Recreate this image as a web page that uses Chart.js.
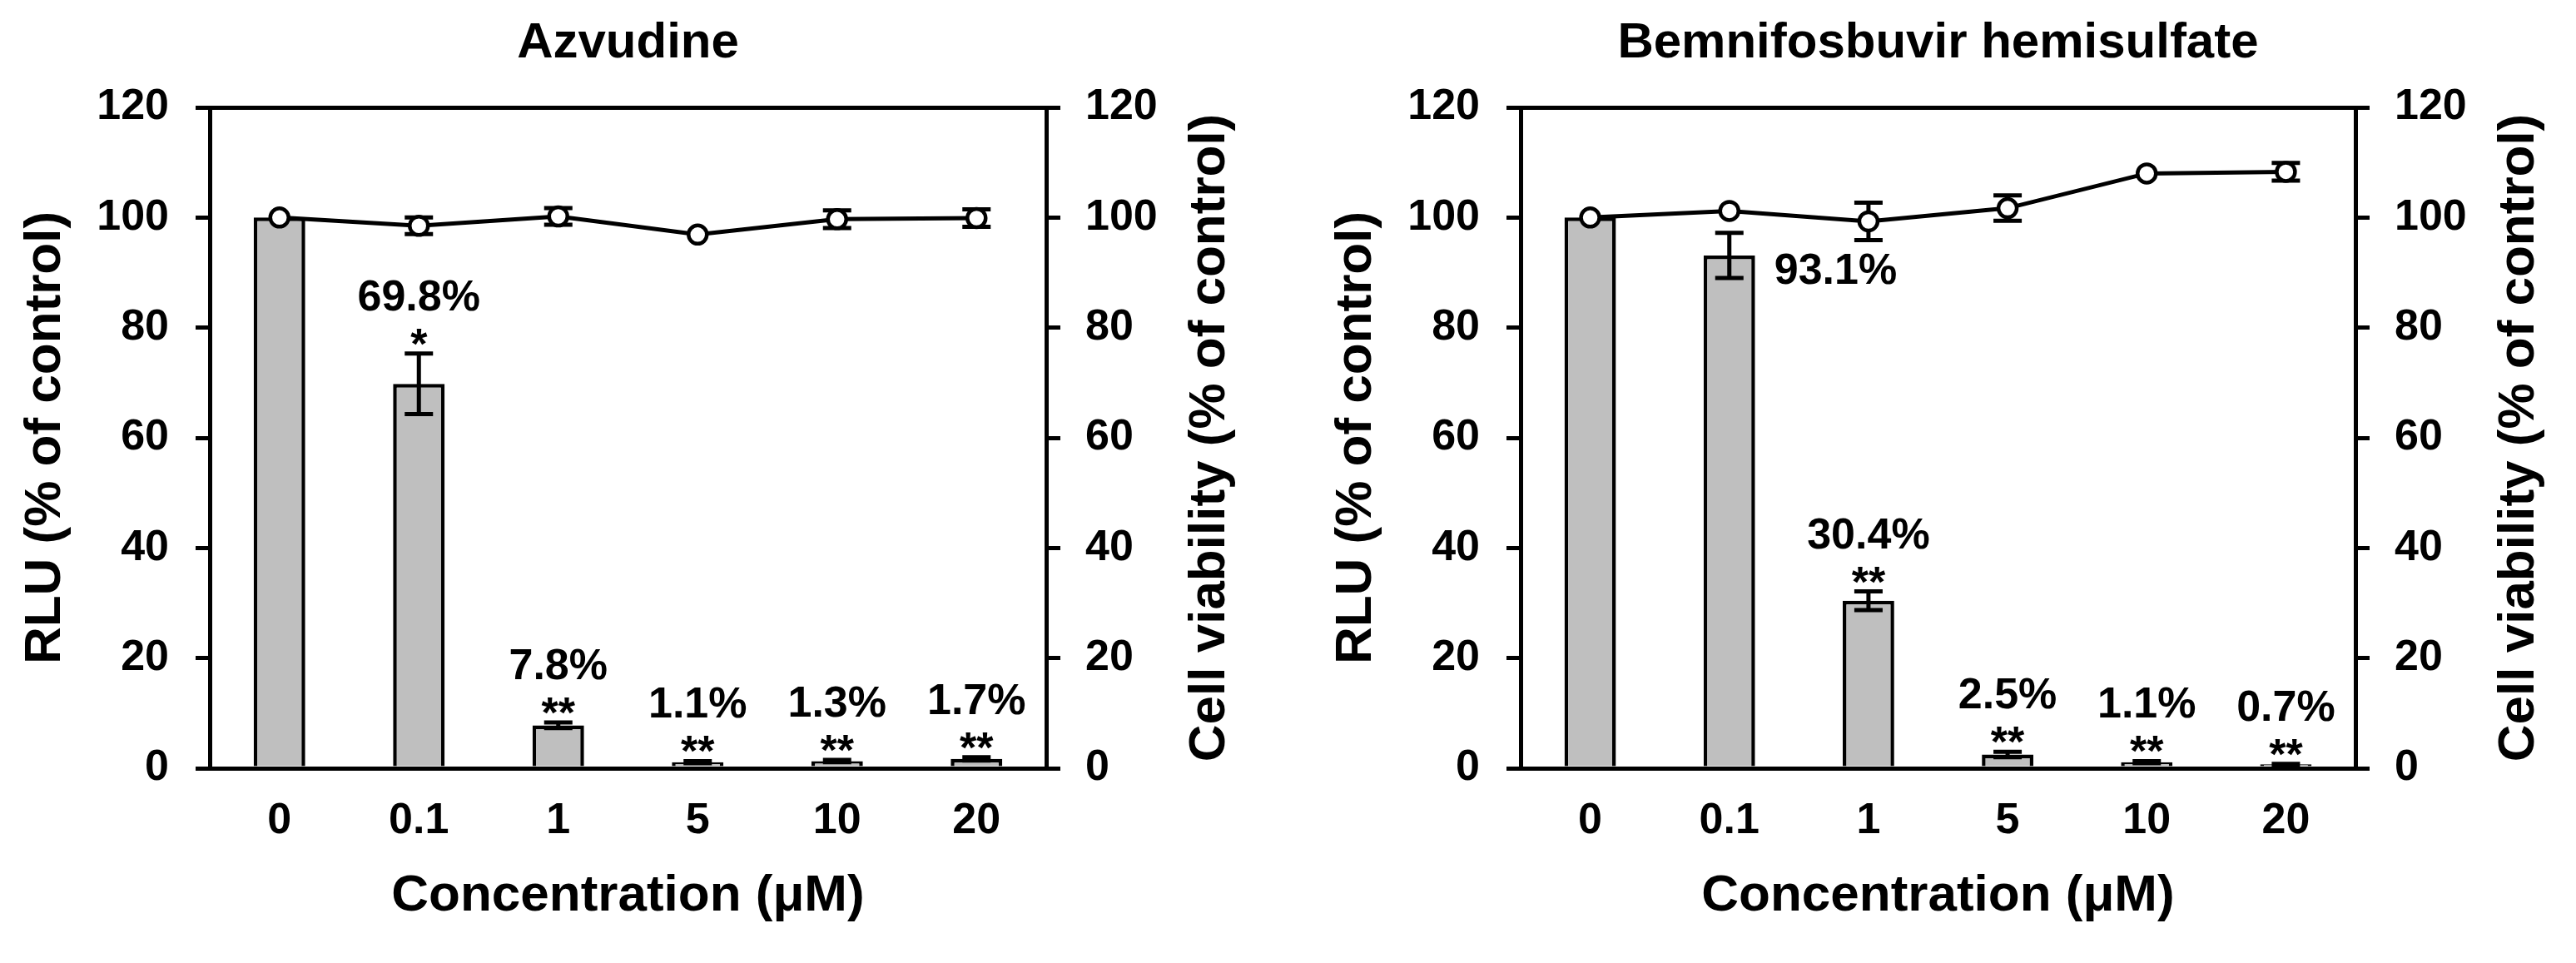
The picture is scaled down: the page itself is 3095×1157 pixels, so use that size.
<!DOCTYPE html>
<html>
<head>
<meta charset="utf-8">
<script src="https://cdn.jsdelivr.net/npm/chart.js@4.4.1/dist/chart.umd.min.js"></script>
<style>
    html, body { margin: 0; padding: 0; background: #fff; }
    body { width: 3095px; height: 1157px; position: relative; overflow: hidden; }
    canvas { position: absolute; top: 0; }
    #azv { left: 0; }
    #bem { left: 1575px; }
</style>
</head>
<body>
<canvas id="azv" width="1509" height="1157"></canvas>
<canvas id="bem" width="1507" height="1157"></canvas>
<script>
// datos
const concentrations = ['0', '0.1', '1', '5', '10', '20'];
const percentTicks = [0, 20, 40, 60, 80, 100, 120];

const azvRlu = [100, 69.8, 7.8, 1.1, 1.3, 1.7];
const azvRluErr = [0, 5.5, 0.5, 0.2, 0.2, 0.3];
const azvViability = [100, 98.5, 100.2, 96.9, 99.7, 99.9];
const azvViabilityErr = [0, 1.5, 1.5, 0, 1.6, 1.6];
const azvStars = ['', '*', '**', '**', '**', '**'];

const bemRlu = [100, 93.1, 30.4, 2.5, 1.1, 0.7];
const bemRluErr = [0, 4.1, 1.7, 0.5, 0.2, 0.1];
const bemViability = [100, 101.2, 99.3, 101.7, 108.0, 108.3];
const bemViabilityErr = [0, 0, 3.4, 2.3, 0, 1.6];
const bemStars = ['', '', '**', '**', '**', '**'];

const FONT = "'Liberation Sans', Arial, Helvetica, sans-serif";
Chart.defaults.font.family = FONT;
Chart.defaults.color = '#000';

const AXIS_BLOCK = 252;   // ancho de cada eje vertical
const X_AXIS_H = 234;
const CAP = 17;
const STROKE = 5;

function drawErrorBars(chart, meta) {
    const ds = chart.data.datasets[meta.index];
    const scale = chart.scales[meta.yAxisID];
    const ctx = chart.ctx;
    ctx.save();
    ctx.strokeStyle = '#000';
    ctx.lineWidth = STROKE;
    meta.data.forEach((el, i) => {
        const err = ds.errors[i];
        if (!err) return;
        const v = ds.data[i];
        const top = scale.getPixelForValue(v + err);
        const bot = scale.getPixelForValue(v - err);
        ctx.beginPath();
        ctx.moveTo(el.x, top); ctx.lineTo(el.x, bot);
        ctx.moveTo(el.x - CAP, top); ctx.lineTo(el.x + CAP, top);
        ctx.moveTo(el.x - CAP, bot); ctx.lineTo(el.x + CAP, bot);
        ctx.stroke();
    });
    ctx.restore();
}

const barNotes = {
    id: 'barNotes',
    beforeDatasetDraw(chart, args) {
        if (args.meta.type === 'line') drawErrorBars(chart, args.meta);
    },
    afterDatasetDraw(chart, args) {
        if (args.meta.type === 'bar') drawErrorBars(chart, args.meta);
    },
    afterDatasetsDraw(chart) {
        const meta = chart.getDatasetMeta(1);
        const ds = chart.data.datasets[1];
        const y = chart.scales.y;
        const ctx = chart.ctx;
        ctx.save();
        ctx.fillStyle = '#000';
        ctx.font = `bold 52px ${FONT}`;
        meta.data.forEach((el, i) => {
            if (i === 0) return;
            const v = ds.data[i];
            const text = v.toFixed(1) + '%';
            if (ds.sideLabels.includes(i)) {
                ctx.textAlign = 'left';
                ctx.textBaseline = 'middle';
                ctx.fillText(text, el.x + 54, y.getPixelForValue(v) + 20);
            } else {
                const errTop = y.getPixelForValue(v + ds.errors[i]);
                ctx.textAlign = 'center';
                ctx.textBaseline = 'alphabetic';
                ctx.fillText(text, el.x, errTop - 52);
                if (ds.stars[i]) ctx.fillText(ds.stars[i], el.x, errTop + 6);
            }
        });
        ctx.restore();
    },
    afterDraw(chart) {
        // título del eje derecho, leído de abajo hacia arriba
        const {ctx, chartArea} = chart;
        ctx.save();
        ctx.translate(chartArea.right + 197, (chartArea.top + chartArea.bottom) / 2);
        ctx.rotate(-Math.PI / 2);
        ctx.font = `bold 62px ${FONT}`;
        ctx.fillStyle = '#000';
        ctx.textAlign = 'center';
        ctx.textBaseline = 'middle';
        ctx.fillText('Cell viability (% of control)', 0, 0);
        ctx.restore();
    }
};

function yAxis(position, padding, title) {
    return {
        position: position,
        min: 0,
        max: 120,
        afterBuildTicks: s => { s.ticks = percentTicks.map(v => ({ value: v })); },
        grid: { display: true, drawOnChartArea: false, drawTicks: true, tickLength: 17, lineWidth: STROKE, color: '#000' },
        border: { display: true, color: '#000', width: STROKE },
        ticks: { font: { size: 52, weight: 'bold' }, padding: padding, color: '#000' },
        title: title
            ? { display: true, text: title, font: { size: 62, weight: 'bold' }, color: '#000', padding: { top: 18, bottom: 0 } }
            : { display: false },
        afterFit: s => { s.width = AXIS_BLOCK; }
    };
}

function buildChart(canvasId, title, rlu, rluErr, viability, viabilityErr, stars, sideLabels) {
    return new Chart(document.getElementById(canvasId), {
        type: 'bar',
        data: {
            labels: concentrations,
            datasets: [
                {
                    type: 'line',
                    label: 'Cell viability',
                    data: viability,
                    errors: viabilityErr,
                    yAxisID: 'y2',
                    order: 0,
                    borderColor: '#000',
                    borderWidth: STROKE,
                    tension: 0,
                    pointRadius: 11,
                    pointHoverRadius: 11,
                    pointBackgroundColor: '#fff',
                    pointBorderColor: '#000',
                    pointBorderWidth: 4.5
                },
                {
                    type: 'bar',
                    label: 'RLU',
                    data: rlu,
                    errors: rluErr,
                    stars: stars,
                    sideLabels: sideLabels,
                    yAxisID: 'y',
                    order: 1,
                    backgroundColor: '#bfbfbf',
                    borderColor: '#000',
                    borderWidth: 4.5,
                    barPercentage: 0.37,
                    categoryPercentage: 1
                }
            ]
        },
        options: {
            responsive: false,
            animation: false,
            devicePixelRatio: 1,
            layout: { padding: 0, autoPadding: false },
            plugins: {
                legend: { display: false },
                tooltip: { enabled: false },
                title: {
                    display: true,
                    text: title,
                    color: '#000',
                    font: { size: 60, weight: 'bold' },
                    padding: { top: 16, bottom: 41 }
                }
            },
            scales: {
                x: {
                    position: 'bottom',
                    z: 1,
                    grid: { display: false, drawTicks: false },
                    border: { display: true, color: '#000', width: STROKE },
                    ticks: { font: { size: 52, weight: 'bold' }, padding: 32, maxRotation: 0, autoSkip: false, color: '#000' },
                    title: { display: true, text: 'Concentration (μM)', color: '#000', font: { size: 62, weight: 'bold' }, padding: { top: 0, bottom: 43 } },
                    afterFit: s => { s.height = X_AXIS_H; }
                },
                xTop: {
                    type: 'category',
                    position: 'top',
                    ticks: { display: false },
                    grid: { display: false, drawTicks: false },
                    border: { display: true, color: '#000', width: STROKE },
                    afterFit: s => { s.height = 0; }
                },
                y: yAxis('left', 32, 'RLU (% of control)'),
                y2: yAxis('right', 30, null)
            }
        },
        plugins: [barNotes]
    });
}

buildChart('azv', 'Azvudine', azvRlu, azvRluErr, azvViability, azvViabilityErr, azvStars, []);
buildChart('bem', 'Bemnifosbuvir hemisulfate', bemRlu, bemRluErr, bemViability, bemViabilityErr, bemStars, [1]);
</script>
</body>
</html>
